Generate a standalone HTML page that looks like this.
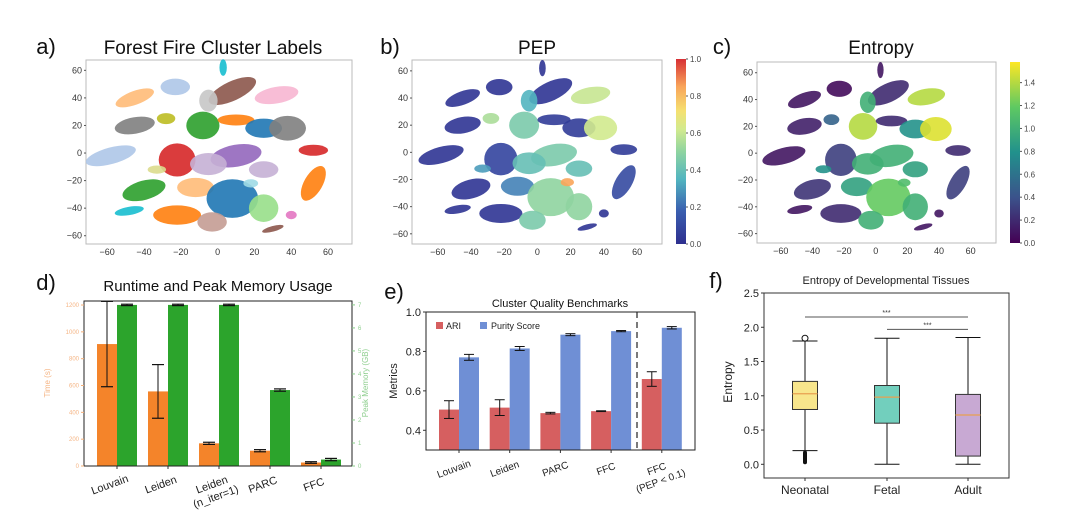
<!DOCTYPE html>
<html><head><meta charset="utf-8"><style>
body{margin:0;background:#fff;}
svg{display:block;font-family:"Liberation Sans","DejaVu Sans",sans-serif;}
</style></head><body>
<svg id="fig" width="1080" height="521" viewBox="0 0 1080 521" xmlns="http://www.w3.org/2000/svg"></svg>
<script>
// ---------- data ----------
const blobX   = [-58,-45,-45,-23,-40,-22,-22,-48,-12,-8, 8,10,10,25,38,32, 8,25,-3,52,52,-5,25,30, 3,-5,-28,40,-33,18];
const blobY   = [ -2, 20, 40, 48,-27, -5,-45,-42,-25,20,45,24,-2,18,18,42,-33,-40,-50,-22, 2,-8,-12,-55,62,38,25,-45,-12,-22];
const blobRX  = [ 14, 11, 11,  8, 12, 10, 13,  8, 10, 9,14,10,14,10,10,12,14, 8, 8, 5, 8,10, 8, 6, 2, 5, 5, 3, 5, 4];
const blobRY  = [  6,  6,  5,  6,  7, 12,  7,  3,  7,10, 7, 4, 8, 7, 9, 6,14,10, 7,14, 4, 8, 6, 2, 6, 8, 4, 3, 3, 3];
const blobRot = [-15,-10,-20,  0,-15,  0,  0,-10,  0, 0,-25,0,-10,0, 0,-10,0, 0, 0,30, 0, 0, 0,-15,0, 0, 0, 0, 0, 0];
const clusterColor = ["#aec7e8","#7f7f7f","#ffbb78","#aec7e8","#2ca02c","#d62728","#ff7f0e","#17becf","#ffbb78","#2ca02c","#8c564b","#ff7f0e","#9467bd","#1f77b4","#7f7f7f","#f7b6d2","#1f77b4","#98df8a","#c49c94","#ff7f0e","#d62728","#c5b0d5","#c5b0d5","#8c564b","#17becf","#c7c7c7","#bcbd22","#e377c2","#dbdb8d","#9edae5"];
const pepValue = [0.02,0.02,0.02,0.02,0.02,0.08,0.02,0.02,0.25,0.45,0.02,0.05,0.45,0.05,0.62,0.6,0.5,0.5,0.45,0.1,0.05,0.4,0.4,0.02,0.02,0.35,0.55,0.02,0.3,0.85];
const entValue = [0.1,0.15,0.1,0.05,0.25,0.3,0.2,0.1,0.9,1.4,0.2,0.2,1.0,0.8,1.5,1.4,1.2,1.0,1.0,0.3,0.2,1.0,0.9,0.1,0.1,1.0,0.5,0.1,0.8,1.1];
const scatterTicks = [-60,-40,-20,0,20,40,60];
// panel d
const dCats = ["Louvain","Leiden","Leiden\n(n_iter=1)","PARC","FFC"];
const dTime = [909,556,169,114,26];
const dTimeErr = [318,200,8,8,6];
const dMem = [7.0,7.0,7.0,3.3,0.28];
const dMemErr = [0.03,0.03,0.03,0.05,0.05];
const dTimeTicks = [0,200,400,600,800,1000,1200];
const dMemTicks = [0,1,2,3,4,5,6,7];
// panel e
const eCats = ["Louvain","Leiden","PARC","FFC","FFC\n(PEP < 0.1)"];
const eARI = [0.505,0.515,0.487,0.497,0.66];
const eARIErr = [0.045,0.04,0.004,0.002,0.037];
const ePurity = [0.77,0.815,0.885,0.903,0.92];
const ePurityErr = [0.015,0.01,0.005,0.003,0.006];
const eTicks = [0.4,0.6,0.8,1.0];
// panel f
const fCats = ["Neonatal","Fetal","Adult"];
const fQ1 = [0.8,0.6,0.12];
const fMed = [1.03,0.98,0.72];
const fQ3 = [1.21,1.15,1.02];
const fLo = [0.2,0.0,0.0];
const fHi = [1.8,1.84,1.85];
const fOutHi = [1.84,null,null];
const fTicks = [0.0,0.5,1.0,1.5,2.0,2.5];

// ---------- helpers ----------
const NS="http://www.w3.org/2000/svg";
const svg=document.getElementById('fig');
function mk(tag,attrs,parent){const e=document.createElementNS(NS,tag);for(const k in attrs)e.setAttribute(k,attrs[k]);(parent||svg).appendChild(e);return e;}
function txt(s,x,y,size,anchor,fill,parent,extra){const t=mk('text',Object.assign({x:x,y:y,'font-size':size,'text-anchor':anchor||'middle',fill:fill||'#222'},extra||{}),parent);t.textContent=s;return t;}
function lerpColor(stops,v){v=Math.max(0,Math.min(1,v));for(let i=0;i<stops.length-1;i++){const [a,ca]=stops[i],[b,cb]=stops[i+1];if(v<=b){const t=(v-a)/(b-a);const p=h=>[1,3,5].map(j=>parseInt(h.substr(j,2),16));const A=p(ca),B=p(cb);return 'rgb('+A.map((x,k)=>Math.round(x+(B[k]-x)*t)).join(',')+')';}}return stops[stops.length-1][1];}
const spectral=[[0,"#2e2f8f"],[0.18,"#3a5fb0"],[0.35,"#52b5c0"],[0.5,"#8fd4a0"],[0.62,"#d2ea8e"],[0.72,"#f5e070"],[0.85,"#f9a55a"],[1,"#d73035"]];
const viridis=[[0,"#440154"],[0.25,"#3b528b"],[0.5,"#21918c"],[0.75,"#5ec962"],[1,"#fde725"]];

// ---------- scatter panels ----------
function scatterPanel(g,box,xr,yr,colorFn,name){
  const sx=v=>box.x0+(v-xr[0])/(xr[1]-xr[0])*(box.x1-box.x0);
  const sy=v=>box.y1-(v-yr[0])/(yr[1]-yr[0])*(box.y1-box.y0);
  const frame=mk('rect',{x:box.x0,y:box.y0,width:box.x1-box.x0,height:box.y1-box.y0,fill:'#fff',stroke:'#bbb','stroke-width':1},g);
  
  
  const blobs=mk('g',{},g);
  
  
  const kx=(box.x1-box.x0)/(xr[1]-xr[0]), ky=(box.y1-box.y0)/(yr[1]-yr[0]);
  blobX.forEach((bx,i)=>{
    const e=mk('ellipse',{cx:sx(bx),cy:sy(blobY[i]),rx:blobRX[i]*kx,ry:blobRY[i]*ky,fill:colorFn(i),transform:`rotate(${blobRot[i]} ${sx(bx)} ${sy(blobY[i])})`,opacity:0.9},blobs);
    
    
  });
  scatterTicks.forEach(t=>{
    const a=txt(String(t).replace('-','−'),sx(t),box.y1+11,9,'middle','#333',g);
    
    const b=txt(String(t).replace('-','−'),box.x0-4,sy(t)+3,9,'end','#333',g);
    
    mk('line',{x1:box.x0-2,x2:box.x0,y1:sy(t),y2:sy(t),stroke:'#555'},g);
  });
}
function colorbar(g,x,y0,y1,stops,ticks,max,name){
  const id='grad'+name;
  const defs=mk('defs',{},g);const lg=mk('linearGradient',{id:id,x1:0,y1:1,x2:0,y2:0},defs);
  stops.forEach(([o,c])=>mk('stop',{offset:o,'stop-color':c},lg));
  const r=mk('rect',{x:x,y:y0,width:10,height:y1-y0,fill:`url(#${id})`},g);
  
  ticks.forEach(t=>{const yy=y1-(t/max)*(y1-y0);mk('line',{x1:x+10,x2:x+12,y1:yy,y2:yy,stroke:'#555'},g);
    const l=txt(t.toFixed(1),x+14,yy+3,8,'start','#444',g);});
}

// panel a
const ga=mk('g',{});
txt('a)',46,54,22,'middle','#111',ga);
txt('Forest Fire Cluster Labels',213,54,19,'middle','#111',ga);
scatterPanel(ga,{x0:86,x1:352,y0:60,y1:244},[-71.5,73],[-66,67.5],i=>clusterColor[i],'cluster-scatter');
// panel b
const gb=mk('g',{});
txt('b)',390,54,22,'middle','#111',gb);
txt('PEP',537,54,19,'middle','#111',gb);
scatterPanel(gb,{x0:412,x1:662,y0:60,y1:244},[-75.5,75],[-67.5,68],i=>lerpColor(spectral,pepValue[i]),'pep-scatter');
colorbar(gb,676,59,244,spectral,[0,0.2,0.4,0.6,0.8,1.0],1.0,'pep');
// panel c
const gc=mk('g',{});
txt('c)',722,54,22,'middle','#111',gc);
txt('Entropy',881,54,19,'middle','#111',gc);
scatterPanel(gc,{x0:757,x1:996,y0:62,y1:243},[-75,76],[-67,68],i=>lerpColor(viridis,entValue[i]/1.58),'entropy-scatter');
colorbar(gc,1010,62,243,viridis,[0,0.2,0.4,0.6,0.8,1.0,1.2,1.4],1.58,'entropy');

// ---------- panel d ----------
const gd=mk('g',{});
txt('d)',46,290,22,'middle','#111',gd);
txt('Runtime and Peak Memory Usage',218,291,15,'middle','#111',gd);
(function(){
  const x0=84,x1=352,y0=301,y1=466;
  const syT=v=>y1-v/1230*(y1-y0), syM=v=>y1-v/7.17*(y1-y0);
  const bw=20;
  dCats.forEach((c,i)=>{
    const cx=117+51*i;
    const o=mk('rect',{x:cx-bw,y:syT(dTime[i]),width:bw,height:y1-syT(dTime[i]),fill:'#f4842a'},gd);
    
    const gr=mk('rect',{x:cx,y:syM(dMem[i]),width:bw,height:y1-syM(dMem[i]),fill:'#2ca42c'},gd);
    
    [[cx-bw/2,syT(dTime[i]-dTimeErr[i]),syT(dTime[i]+dTimeErr[i])],[cx+bw/2,syM(dMem[i]-dMemErr[i]),syM(dMem[i]+dMemErr[i])]].forEach(([ex,a,b])=>{
      mk('line',{x1:ex,x2:ex,y1:a,y2:b,stroke:'#111','stroke-width':1},gd);
      mk('line',{x1:ex-6,x2:ex+6,y1:a,y2:a,stroke:'#111','stroke-width':1.2},gd);
      mk('line',{x1:ex-6,x2:ex+6,y1:b,y2:b,stroke:'#111','stroke-width':1.2},gd);
    });
    mk('line',{x1:cx,x2:cx,y1:y1,y2:y1+3,stroke:'#333'},gd);
    const parts=c.split('\n');
    const l=txt(parts[0],cx-6,y1+22,11,'middle','#222',gd,{transform:`rotate(-20 ${cx-6} ${y1+22})`});
    
    if(parts[1]){const l2=txt(parts[1],cx-2,y1+34,11,'middle','#222',gd,{transform:`rotate(-20 ${cx-2} ${y1+34})`});}
  });
  mk('rect',{x:x0,y:y0,width:x1-x0,height:y1-y0,fill:'none',stroke:'#222','stroke-width':1},gd);
  dTimeTicks.forEach(t=>{mk('line',{x1:x0-3,x2:x0,y1:syT(t),y2:syT(t),stroke:'#f4b07a'},gd);
    const l=txt(String(t),x0-5,syT(t)+2,6,'end','#f5b585',gd);});
  dMemTicks.forEach(t=>{mk('line',{x1:x1,x2:x1+3,y1:syM(t),y2:syM(t),stroke:'#8c8'},gd);
    const l=txt(String(t),x1+6,syM(t)+2,6,'start','#8fcf8f',gd);});
  txt('Time (s)',50,383,8,'middle','#f5b585',gd,{transform:'rotate(-90 50 383)'});
  txt('Peak Memory (GB)',368,383,8,'middle','#8fcf8f',gd,{transform:'rotate(-90 368 383)'});
})();

// ---------- panel e ----------
const ge=mk('g',{});
txt('e)',394,299,22,'middle','#111',ge);
txt('Cluster Quality Benchmarks',560,307,11,'middle','#111',ge);
(function(){
  const x0=426,x1=695,y0=312,y1=450;
  const sy=v=>y1-(v-0.3)/0.7*(y1-y0);
  const bw=20;
  eCats.forEach((c,i)=>{
    const cx=459+50.7*i;
    const r=mk('rect',{x:cx-bw,y:sy(eARI[i]),width:bw,height:y1-sy(eARI[i]),fill:'#d65f60'},ge);
    
    const b=mk('rect',{x:cx,y:sy(ePurity[i]),width:bw,height:y1-sy(ePurity[i]),fill:'#6f8fd5'},ge);
    
    [[cx-bw/2,eARI[i],eARIErr[i]],[cx+bw/2,ePurity[i],ePurityErr[i]]].forEach(([ex,v,e])=>{
      const a=sy(v-e),bb=sy(v+e);
      mk('line',{x1:ex,x2:ex,y1:a,y2:bb,stroke:'#111'},ge);
      mk('line',{x1:ex-5,x2:ex+5,y1:a,y2:a,stroke:'#111'},ge);
      mk('line',{x1:ex-5,x2:ex+5,y1:bb,y2:bb,stroke:'#111'},ge);
    });
    mk('line',{x1:cx,x2:cx,y1:y1,y2:y1+3,stroke:'#333'},ge);
    const parts=c.split('\n');
    const l=txt(parts[0],cx-4,y1+22,10,'middle','#222',ge,{transform:`rotate(-20 ${cx-4} ${y1+22})`});
    
    if(parts[1]){const l2=txt(parts[1],cx,y1+34,10,'middle','#222',ge,{transform:`rotate(-20 ${cx} ${y1+34})`});}
  });
  const sep=mk('line',{x1:637,x2:637,y1:y0,y2:y1,stroke:'#333','stroke-dasharray':'6,4','stroke-width':1.3},ge);
  
  mk('rect',{x:x0,y:y0,width:x1-x0,height:y1-y0,fill:'none',stroke:'#222'},ge);
  eTicks.forEach(t=>{mk('line',{x1:x0-3,x2:x0,y1:sy(t),y2:sy(t),stroke:'#333'},ge);
    const l=txt(t.toFixed(1),x0-5,sy(t)+4,11,'end','#222',ge);});
  txt('Metrics',397,381,11,'middle','#222',ge,{transform:'rotate(-90 397 381)'});
  const lg=mk('g',{},ge);
  mk('rect',{x:436,y:322,width:7,height:7,fill:'#d65f60'},lg);txt('ARI',446,329,9,'start','#222',lg);
  mk('rect',{x:480,y:322,width:7,height:7,fill:'#6f8fd5'},lg);txt('Purity Score',491,329,9,'start','#222',lg);
})();

// ---------- panel f ----------
const gf=mk('g',{});
txt('f)',716,288,22,'middle','#111',gf);
txt('Entropy of Developmental Tissues',886,284,11,'middle','#222',gf);
(function(){
  const x0=764,x1=1009,y0=293,y1=478;
  const sy=v=>y1-(v+0.2)/2.7*(y1-y0);
  const cxs=[805,887,968];const fills=['#f8e68c','#72cfbd','#c8a9d3'];const bw=25;
  fCats.forEach((c,i)=>{
    const cx=cxs[i];
    mk('line',{x1:cx,x2:cx,y1:sy(fLo[i]),y2:sy(fQ1[i]),stroke:'#111'},gf);
    mk('line',{x1:cx,x2:cx,y1:sy(fQ3[i]),y2:sy(fHi[i]),stroke:'#111'},gf);
    mk('line',{x1:cx-bw/2,x2:cx+bw/2,y1:sy(fLo[i]),y2:sy(fLo[i]),stroke:'#111'},gf);
    mk('line',{x1:cx-bw/2,x2:cx+bw/2,y1:sy(fHi[i]),y2:sy(fHi[i]),stroke:'#111'},gf);
    const b=mk('rect',{x:cx-bw/2,y:sy(fQ3[i]),width:bw,height:sy(fQ1[i])-sy(fQ3[i]),fill:fills[i],stroke:'#333'},gf);
    
    mk('line',{x1:cx-bw/2,x2:cx+bw/2,y1:sy(fMed[i]),y2:sy(fMed[i]),stroke:'#e8a050','stroke-width':1.2},gf);
    if(fOutHi[i]!==null)mk('circle',{cx:cx,cy:sy(fOutHi[i]),r:3,fill:'none',stroke:'#111'},gf);
    mk('line',{x1:cx,x2:cx,y1:y1,y2:y1+3,stroke:'#333'},gf);
    const l=txt(c,cx,y1+16,12,'middle','#222',gf);
  });
  const ol=mk('rect',{x:cxs[0]-2,y:sy(0.2),width:4,height:sy(0)-sy(0.2),fill:'#111',rx:2},gf);
  
  const s1=mk('line',{x1:cxs[0],x2:cxs[2],y1:sy(2.15),y2:sy(2.15),stroke:'#555'},gf);
  txt('***',(cxs[0]+cxs[2])/2,sy(2.15)-2,7,'middle','#333',gf);
  const s2=mk('line',{x1:cxs[1],x2:cxs[2],y1:sy(1.97),y2:sy(1.97),stroke:'#555'},gf);
  txt('***',(cxs[1]+cxs[2])/2,sy(1.97)-2,7,'middle','#333',gf);
  mk('rect',{x:x0,y:y0,width:x1-x0,height:y1-y0,fill:'none',stroke:'#333'},gf);
  fTicks.forEach(t=>{mk('line',{x1:x0-3,x2:x0,y1:sy(t),y2:sy(t),stroke:'#333'},gf);
    const l=txt(t.toFixed(1),x0-5,sy(t)+4,11,'end','#222',gf);});
  txt('Entropy',732,382,12,'middle','#222',gf,{transform:'rotate(-90 732 382)'});
})();
</script>
</body></html>
